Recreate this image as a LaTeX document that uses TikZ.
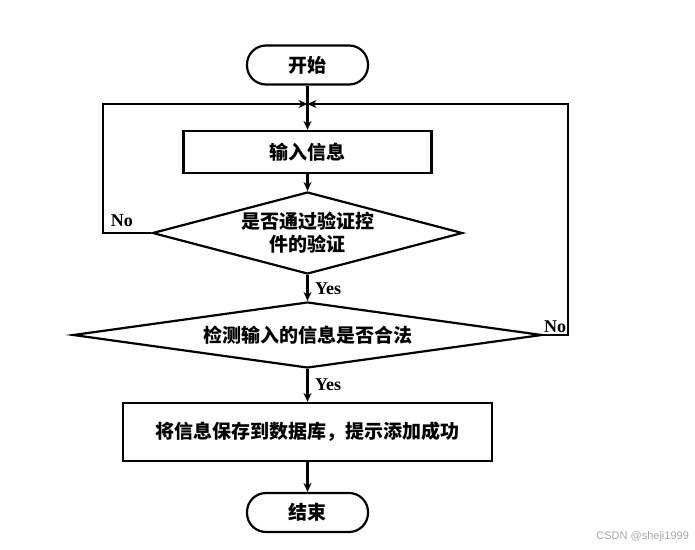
\documentclass[tikz,border=0pt]{standalone}
\usepackage{fontspec}
\setmainfont{Liberation Serif}
\newfontfamily\cjk{Noto Sans CJK SC}
\newfontfamily\wm{Liberation Sans}
\usetikzlibrary{shapes.geometric,arrows.meta}
\begin{document}
\begin{tikzpicture}[x=1pt,y=-1pt,
  line width=2.2pt,
  every node/.style={inner sep=0pt},
  cn/.style={font=\cjk\bfseries\fontsize{19}{23}\selectfont},
  lbl/.style={font=\bfseries\fontsize{18}{20}\selectfont},
  term/.style={draw,cn,rectangle,rounded corners=19pt,minimum width=121pt,minimum height=39pt},
  proc/.style={draw,cn,rectangle},
  dec/.style={draw,cn,diamond,align=center},
  arr/.style={-{Stealth[length=9pt,width=8pt]}}]
\useasboundingbox (0,0) rectangle (695,549);
\node[term] (start) at (307.5,65) {开始};
\coordinate (j) at (307.5,104);
\node[proc,minimum width=248pt,minimum height=42pt] (in) at (307.5,152) {输入信息};
\node[dec,aspect=3.78,minimum width=310pt,minimum height=82pt] (d1) at (307.5,233) {是否通过验证控\\件的验证};
\node[dec,aspect=7.1,minimum width=469pt,minimum height=66pt] (d2) at (307.5,335) {检测输入的信息是否合法};
\node[proc,minimum width=369pt,minimum height=58pt] (save) at (307.5,432) {将信息保存到数据库，提示添加成功};
\node[term] (end) at (307.5,512.5) {结束};
\coordinate (lc) at (103,233);
\coordinate (rc) at (568,335);
\draw[arr] (start) -- (in);
\draw[arr] (d1.west) -- (lc) |- (j);
\draw[arr] (d2.east) -- (rc) |- (j);
\draw[arr] (in) -- (d1);
\draw[arr] (d1) -- (d2);
\draw[arr] (d2) -- (save);
\draw[arr] (save) -- (end);
\node[lbl,anchor=base east] (no1) at (134,226) {No};
\node[lbl,anchor=base west] (no2) at (543,332) {No};
\node[lbl,anchor=base west] (yes1) at (314,294) {Yes};
\node[lbl,anchor=base west] (yes2) at (314,390) {Yes};
\node[font=\wm\fontsize{11}{13}\selectfont,text=black!35,anchor=base east] (wmk) at (690,539) {CSDN @sheji1999};
\end{tikzpicture}
\end{document}
